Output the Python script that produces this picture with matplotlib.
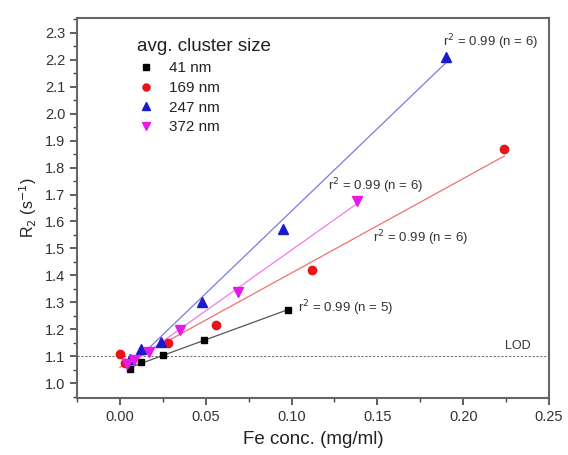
import numpy as np
import matplotlib.pyplot as plt
from matplotlib.ticker import MultipleLocator

plt.rcParams['font.family'] = ['Liberation Sans', 'DejaVu Sans']

# series (Fe conc. in mg/ml, R2 in 1/s)
labels = ['41 nm', '169 nm', '247 nm', '372 nm']

x_41 = [0.006, 0.012, 0.025, 0.049, 0.098]
y_41 = [1.052, 1.078, 1.104, 1.160, 1.272]

x_169 = [0.0, 0.003, 0.028, 0.056, 0.112, 0.224]
y_169 = [1.108, 1.075, 1.148, 1.215, 1.420, 1.870]

x_247 = [0.006, 0.012, 0.024, 0.048, 0.095, 0.190]
y_247 = [1.090, 1.128, 1.152, 1.300, 1.574, 2.212]

x_372 = [0.004, 0.008, 0.017, 0.035, 0.069, 0.138]
y_372 = [1.070, 1.087, 1.115, 1.196, 1.338, 1.675]

fit_text = ['r$^2$ = 0.99 (n = 5)', 'r$^2$ = 0.99 (n = 6)',
            'r$^2$ = 0.99 (n = 6)', 'r$^2$ = 0.99 (n = 6)']
lod = 1.1

series = [(x_41, y_41), (x_169, y_169), (x_247, y_247), (x_372, y_372)]
marker_colors = ['black', '#e8141b', '#1a1acc', '#e619e6']
line_colors = ['#555555', '#f07070', '#7a7ae6', '#f07af0']
markers = ['s', 'o', '^', 'v']
msizes = [5, 6, 6.5, 6.5]
text_pos = [(0.1035, 1.278), (0.1475, 1.537), (0.188, 2.264), (0.121, 1.73)]

fig = plt.figure(figsize=(5.68, 4.55), dpi=100)
ax = fig.add_axes([0.1356, 0.1253, 0.831, 0.835])

ax.axhline(lod, color='#777777', lw=0.8, ls=(0, (2, 1.5)), zorder=1)
ax.text(0.2245, lod + 0.037, 'LOD', fontsize=9, color='#333333', va='center')

for i, (xs, ys) in enumerate(series):
    xs = np.array(xs)
    ys = np.array(ys)
    k, b = np.polyfit(xs, ys, 1)
    xl = np.array([xs.min(), xs.max()])
    ax.plot(xl, k * xl + b, color=line_colors[i], lw=0.9, zorder=2)
for i, (xs, ys) in enumerate(series):
    ax.plot(xs, ys, ls='none', marker=markers[i], color=marker_colors[i],
            markersize=msizes[i], label=labels[i], zorder=3)
    ax.text(text_pos[i][0], text_pos[i][1], fit_text[i], fontsize=9.5,
            color='#333333', va='center')

ax.set_xlim(-0.025, 0.25)
ax.set_ylim(0.945, 2.355)
ax.xaxis.set_major_locator(MultipleLocator(0.05))
ax.xaxis.set_minor_locator(MultipleLocator(0.025))
ax.yaxis.set_major_locator(MultipleLocator(0.1))
ax.yaxis.set_minor_locator(MultipleLocator(0.05))
ax.xaxis.set_major_formatter(plt.FuncFormatter(lambda v, p: f'{v:.2f}'))
ax.yaxis.set_major_formatter(plt.FuncFormatter(lambda v, p: f'{v:.1f}'))
ax.tick_params(which='major', direction='out', length=5, width=1.2,
               color='#444444', labelsize=10.5, labelcolor='#333333')
ax.tick_params(which='minor', direction='out', length=3, width=1.0, color='#444444')
for s in ax.spines.values():
    s.set_color('#666666')
    s.set_linewidth(1.5)

ax.set_xlabel('Fe conc. (mg/ml)', fontsize=13.5, color='#222222', labelpad=5)
ax.set_ylabel('R$_2$ (s$^{-1}$)', fontsize=11.5, color='#222222', labelpad=4)

leg = ax.legend(loc='upper left', bbox_to_anchor=(0.105, 0.975), frameon=False,
                title='avg. cluster size', fontsize=11, title_fontsize=13.5,
                handletextpad=0.9, labelspacing=0.38, alignment='left',
                handlelength=1.2, borderpad=0.2, markerscale=0.85)
for t in leg.get_texts():
    t.set_color('#222222')
leg.get_title().set_color('#222222')

plt.savefig('out.png', dpi=100)
